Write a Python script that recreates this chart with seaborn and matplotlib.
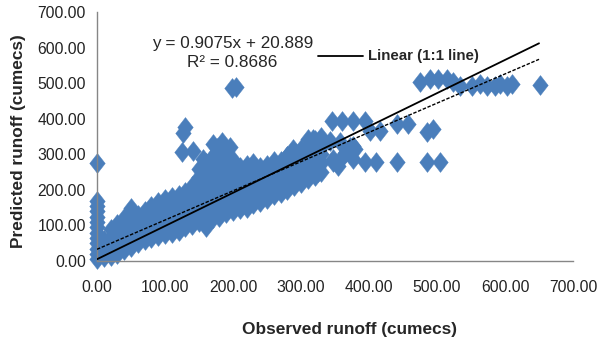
import matplotlib
matplotlib.use("Agg")
import matplotlib.pyplot as plt
from matplotlib.path import Path
import numpy as np
import pandas as pd
import seaborn as sns

stack_x0 = [5, 20, 35, 50, 65, 80, 95, 110, 125, 140, 155, 170, 275]
band = {
    10: [10, 35, 60],
    20: [15, 40, 65, 90],
    30: [20, 45, 70, 95, 105],
    40: [30, 55, 80, 105, 120],
    50: [40, 65, 90, 115, 140, 150],
    60: [50, 75, 100, 130],
    70: [60, 85, 110, 140],
    80: [65, 90, 115, 140, 155],
    90: [70, 95, 120, 145, 165],
    100: [75, 100, 125, 150, 175],
    110: [80, 105, 130, 155, 180],
    120: [85, 110, 135, 160, 185],
    130: [95, 120, 145, 170, 195],
    140: [100, 125, 150, 175, 200, 210],
    150: [110, 135, 160, 185, 210, 235, 260],
    160: [95, 115, 140, 165, 190, 215, 240, 265, 275],
    170: [120, 145, 170, 195, 220, 245, 270, 295],
    180: [125, 150, 175, 200, 225, 250, 275, 300],
    190: [135, 160, 185, 210, 235, 260, 285, 300],
    200: [140, 165, 190, 215, 240, 265, 285],
    210: [145, 170, 195, 220, 245, 265],
    220: [150, 175, 200, 225, 250, 270],
    230: [160, 185, 210, 235, 260, 275],
    240: [165, 190, 215, 240, 265],
    250: [175, 200, 225, 250, 270],
    260: [185, 210, 235, 260, 280],
    270: [190, 215, 240, 265, 280],
    280: [200, 225, 250, 275, 295],
    290: [210, 235, 260, 285, 300],
    300: [220, 245, 270, 300, 315],
    310: [230, 250, 280, 310, 343],
    320: [240, 258, 278, 300, 339],
    330: [250, 275, 300, 320, 348],
}
extra_obs = [125, 127, 130, 141, 156, 171, 177, 184, 196, 198, 205,
             279, 288, 298, 309, 313, 318, 325,
             343, 346, 347, 347, 355, 357, 360, 362, 365, 372, 376, 376, 376,
             380, 394, 394, 401, 410, 416, 441, 441, 457, 485, 485, 494, 504,
             475, 490, 502, 515, 524, 534, 551, 563, 574, 585, 593, 603, 610, 651]
extra_pred = [306, 360, 378, 309, 287, 329, 318, 334, 320, 485, 490,
              295, 315, 267, 250, 278, 343, 250,
              337, 393, 287, 278, 267, 334, 393, 295, 305, 320, 323, 287, 393,
              315, 393, 278, 365, 278, 365, 385, 278, 385, 278, 362, 371, 278,
              503, 511, 511, 511, 503, 492, 492, 497, 492, 492, 497, 492, 497, 494]

# reference lines (end points)
line_x = [0, 650]
solid_y = [5, 612]
dashed_y = [33, 567]

obs = [0] * len(stack_x0)
pred = list(stack_x0)
for xv, ys in band.items():
    obs += [xv] * len(ys)
    pred += ys
obs += extra_obs
pred += extra_pred
df = pd.DataFrame({"observed": obs, "predicted": pred})

sns.set_style("white")
plt.rcParams["font.family"] = ["Liberation Sans", "DejaVu Sans"]

fig = plt.figure(figsize=(6.08, 3.43), dpi=100)
ax = fig.add_axes([0.1595, 0.239, 0.783, 0.726])

diamond = Path([(0, 1), (0.78, 0), (0, -1), (-0.78, 0), (0, 1)],
               [Path.MOVETO, Path.LINETO, Path.LINETO, Path.LINETO, Path.CLOSEPOLY])
sns.scatterplot(data=df, x="observed", y="predicted", ax=ax, marker=diamond,
                s=205, color="#4A7EBB", edgecolor="#4A7EBB", linewidth=0.3,
                clip_on=False, zorder=2)

ax.plot(line_x, solid_y, color="black", lw=1.3, zorder=3)
ax.plot(line_x, dashed_y, color="black", lw=1.0, ls=(0, (2.5, 1.2)), zorder=3)

ax.set_xlim(0, 700)
ax.set_ylim(0, 700)
ax.set_xticks(np.arange(0, 701, 100))
ax.set_yticks(np.arange(0, 701, 100))
ax.set_xticklabels([f"{v:.2f}" for v in range(0, 701, 100)])
ax.set_yticklabels([f"{v:.2f}" for v in range(0, 701, 100)])
ax.tick_params(axis="both", labelsize=11.3, colors="#222222", length=5,
               width=1, direction="out", color="#868686")
ax.tick_params(axis="x", pad=9)
ax.tick_params(axis="y", pad=3)
for side in ["top", "right"]:
    ax.spines[side].set_visible(False)
for side in ["left", "bottom"]:
    ax.spines[side].set_color("#868686")
    ax.spines[side].set_linewidth(1)

ax.set_xlabel("Observed runoff (cumecs)", fontsize=12.4, fontweight="bold")
ax.xaxis.set_label_coords(0.53, -0.245)
ax.set_ylabel("Predicted runoff (cumecs)", fontsize=12.4, fontweight="bold")
ax.yaxis.set_label_coords(-0.15, 0.48)

ax.text(0.284, 0.875, "y = 0.9075x + 20.889", transform=ax.transAxes,
        ha="center", va="center", fontsize=12.3)
ax.text(0.284, 0.797, "R² = 0.8686", transform=ax.transAxes,
        ha="center", va="center", fontsize=12.3)
ax.plot([0.464, 0.559], [0.825, 0.825], transform=ax.transAxes, color="black", lw=1.3)
ax.text(0.569, 0.825, "Linear (1:1 line)", transform=ax.transAxes, ha="left",
        va="center", fontsize=10.8, fontweight="bold")

fig.savefig("out.png", dpi=100)
